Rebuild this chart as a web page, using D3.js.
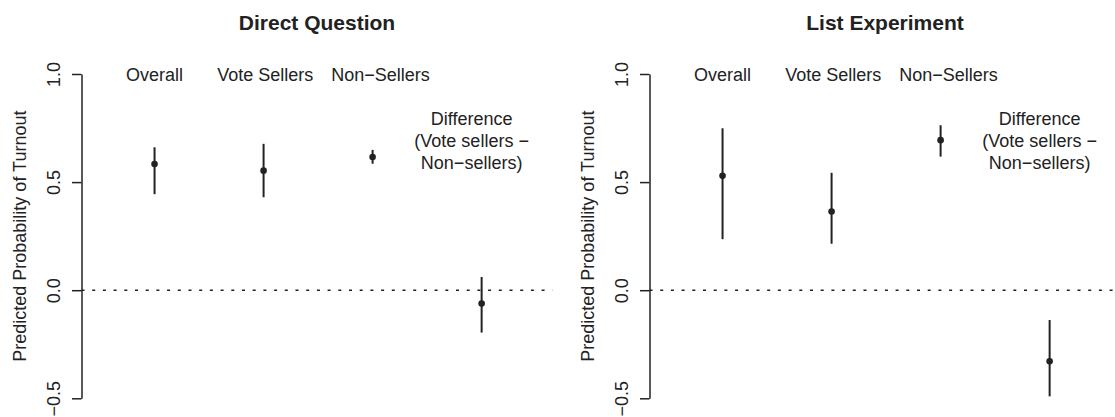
<!DOCTYPE html>
<html>
<head>
<meta charset="utf-8">
<script src="https://cdn.jsdelivr.net/npm/d3@7"></script>
<style>
  html, body { margin: 0; padding: 0; background: #fff; }
  svg { display: block; font-family: "Liberation Sans", Arial, Helvetica, sans-serif; }
</style>
</head>
<body>
<svg id="chart" width="1115" height="417"></svg>
<script>
// Groups shown along each panel
const categories = ["Overall", "Vote Sellers", "Non\u2212Sellers", "Difference"];
const differenceLabel = ["Difference", "(Vote sellers \u2212", "Non\u2212sellers)"];
const panelTitles = ["Direct Question", "List Experiment"];
const yTicks = [-0.5, 0, 0.5, 1.0];

// Direct question: point estimates and interval bounds
const directEst = [0.584, 0.553, 0.616, -0.062];
const directLo  = [0.444, 0.430, 0.585, -0.196];
const directHi  = [0.661, 0.677, 0.649, 0.061];

// List experiment: point estimates and interval bounds
const listEst = [0.529, 0.364, 0.694, -0.329];
const listLo  = [0.236, 0.215, 0.618, -0.491];
const listHi  = [0.749, 0.543, 0.763, -0.138];

const svg = d3.select("#chart");
const ink = "#222";

const plotW = 471;
const panelLefts = [81.5, 649.5];
const yScale = d3.scaleLinear().domain([-0.5, 1.0]).range([398.3, 74]);
const xScale = d3.scaleLinear().domain([-0.67, 3.65]).range([0, plotW]);

// horizontal nudges for the category captions (px)
const labelNudge = [0, 1.7, 8, 0];

function drawPanel(left, title, est, lo, hi) {
  const panel = svg.append("g").attr("transform", `translate(${left},0)`);
  const rows = categories.map((name, idx) => ({ name, idx, est: est[idx], lo: lo[idx], hi: hi[idx] }));

  // title
  panel.append("text")
    .attr("x", plotW / 2).attr("y", 30)
    .attr("text-anchor", "middle")
    .attr("font-size", 21).attr("font-weight", "bold")
    .attr("fill", ink)
    .text(title);

  // y axis title
  panel.append("text")
    .attr("transform", `translate(-55.5,${(yScale(1) + yScale(-0.5)) / 2}) rotate(-90)`)
    .attr("text-anchor", "middle")
    .attr("font-size", 18).attr("fill", ink)
    .text("Predicted Probability of Turnout");

  // zero reference line
  panel.append("path")
    .attr("d", `M0,${yScale(0)}H${plotW}`)
    .attr("fill", "none")
    .attr("stroke", ink).attr("stroke-width", 1.6)
    .attr("stroke-dasharray", "3,7.7");

  // category captions
  const caps = panel.append("g").attr("fill", ink).attr("font-size", 18).attr("text-anchor", "middle");
  caps.selectAll("text")
    .data(rows.slice(0, 3))
    .join("text")
    .attr("x", d => xScale(d.idx) + labelNudge[d.idx])
    .attr("y", 81)
    .text(d => d.name);

  caps.append("text")
    .selectAll("tspan")
    .data(differenceLabel)
    .join("tspan")
    .attr("x", xScale(3) - 10)
    .attr("y", (d, k) => 125 + k * 22)
    .text(d => d);

  // intervals
  const marks = panel.append("g");
  marks.selectAll("path")
    .data(rows)
    .join("path")
    .attr("d", d => `M${xScale(d.idx)},${yScale(d.lo)}V${yScale(d.hi)}`)
    .attr("stroke", ink).attr("stroke-width", 2).attr("fill", "none");

  // point estimates
  marks.selectAll("circle")
    .data(rows)
    .join("circle")
    .attr("cx", d => xScale(d.idx)).attr("cy", d => yScale(d.est))
    .attr("r", 3.3)
    .attr("fill", ink);
}

drawPanel(panelLefts[0], panelTitles[0], directEst, directLo, directHi);
drawPanel(panelLefts[1], panelTitles[1], listEst, listLo, listHi);

// y axes, one per panel, in their own top-level groups
panelLefts.forEach(left => {
  const ax = svg.append("g")
    .attr("class", "y-axis")
    .attr("transform", `translate(${left},0)`)
    .call(d3.axisLeft(yScale)
      .tickValues(yTicks)
      .tickFormat(d3.format(".1f"))
      .tickSize(9.5)
      .tickSizeOuter(0));
  ax.select(".domain")
    .attr("stroke", ink)
    .attr("stroke-width", 1.5);
  ax.selectAll(".tick line")
    .attr("stroke", ink)
    .attr("stroke-width", 1.5);
  ax.selectAll(".tick text")
    .attr("x", null).attr("dy", null)
    .attr("fill", ink)
    .attr("transform", "translate(-21.5,0) rotate(-90)")
    .attr("text-anchor", "middle")
    .attr("font-size", 18)
    .attr("font-family", "Liberation Sans, Arial, sans-serif");
});
</script>
</body>
</html>
